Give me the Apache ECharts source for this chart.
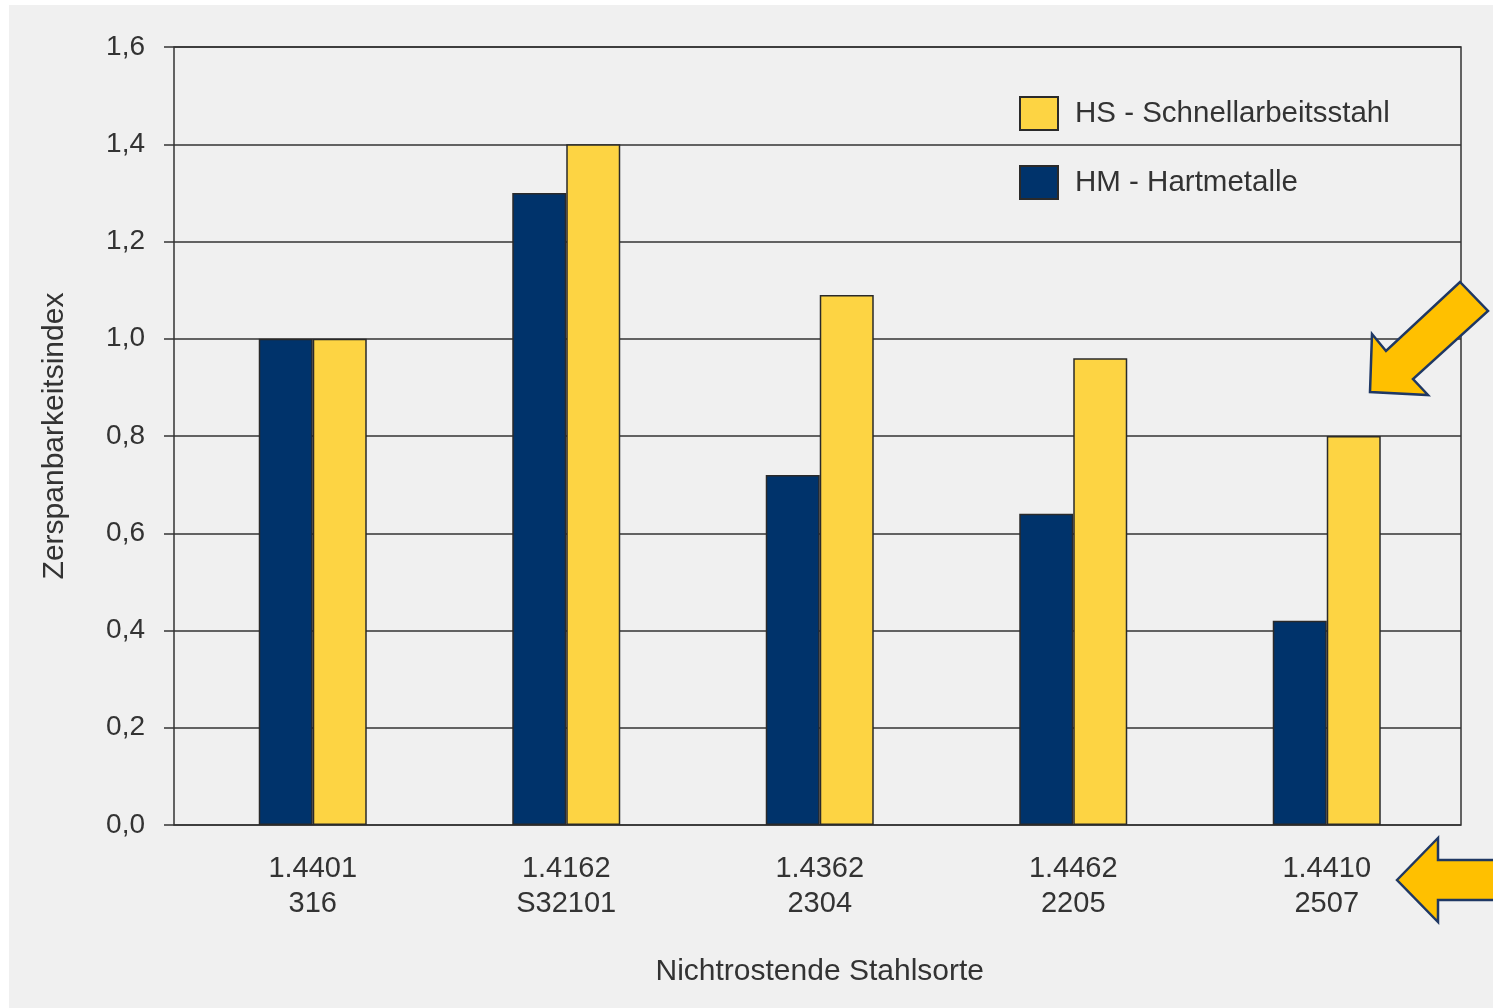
<!DOCTYPE html>
<html><head><meta charset="utf-8">
<script src="https://cdn.jsdelivr.net/npm/echarts@6/dist/echarts.min.js"></script>
<style>html,body{margin:0;padding:0;background:#fff}#c{width:1493px;height:1008px}</style>
</head><body><div id="c"></div>
<script>
const categories = ['1.4401\n316', '1.4162\nS32101', '1.4362\n2304', '1.4462\n2205', '1.4410\n2507'];
const hmValues = [1.0, 1.3, 0.72, 0.64, 0.42];
const hsValues = [1.0, 1.4, 1.09, 0.96, 0.80];
const yTicks = { min: 0, max: 1.6, interval: 0.2 };
const seriesNames = ['HM - Hartmetalle', 'HS - Schnellarbeitsstahl'];

const FONT = '"Liberation Sans", Arial, sans-serif';
const TXT = '#333333';
const chart = echarts.init(document.getElementById('c'), null, { renderer: 'canvas' });
const arrowStyle = { fill: '#ffc000', stroke: '#1f3864', lineWidth: 2.5, lineJoin: 'miter' };
chart.setOption({
  backgroundColor: '#f0f0f0',
  textStyle: { fontFamily: FONT },
  animation: false,
  grid: [
    { left: 174, top: 47, width: 1287, height: 778, show: true, borderColor: '#333', borderWidth: 1.5, backgroundColor: 'transparent' },
    { left: 186, top: 47, width: 1267.5, height: 778 }
  ],
  xAxis: [
    { gridIndex: 0, type: 'value', show: false },
    { gridIndex: 1, type: 'category', data: categories,
      axisLine: { show: false }, axisTick: { show: false },
      axisLabel: { fontSize: 29, color: TXT, margin: 26, lineHeight: 35, fontFamily: FONT },
      name: 'Nichtrostende Stahlsorte', nameLocation: 'middle', nameGap: 132,
      nameTextStyle: { fontSize: 30, color: TXT, fontFamily: FONT } }
  ],
  yAxis: [
    { gridIndex: 0, type: 'value', min: yTicks.min, max: yTicks.max, interval: yTicks.interval,
      axisLine: { show: false },
      axisTick: { show: true, length: 10, lineStyle: { color: '#333', width: 1.5 } },
      splitLine: { show: true, lineStyle: { color: '#333', width: 1.5 } },
      axisLabel: { fontSize: 28, color: TXT, margin: 29, fontFamily: FONT,
        formatter: v => v.toFixed(1).replace('.', ',') },
      name: 'Zerspanbarkeitsindex', nameLocation: 'middle', nameGap: 104,
      nameTextStyle: { fontSize: 30, color: TXT, fontFamily: FONT } },
    { gridIndex: 1, type: 'value', min: yTicks.min, max: yTicks.max, interval: yTicks.interval, show: false,
      splitLine: { show: false } }
  ],
  legend: {
    data: [seriesNames[1], seriesNames[0]],
    orient: 'vertical', left: 1019, top: 96, padding: 0,
    itemWidth: 38, itemHeight: 33, itemGap: 34, icon: 'rect',
    textStyle: { fontSize: 29.5, color: TXT, fontFamily: FONT, padding: [0, 0, 0, 12] }
  },
  series: [
    { name: seriesNames[0], type: 'bar', xAxisIndex: 1, yAxisIndex: 1, data: hmValues,
      barWidth: 54, barGap: '0%',
      itemStyle: { color: '#00336b', borderColor: '#2a2a2a', borderWidth: 1.5 } },
    { name: seriesNames[1], type: 'bar', xAxisIndex: 1, yAxisIndex: 1, data: hsValues,
      barWidth: 54, barGap: '0%',
      itemStyle: { color: '#fdd443', borderColor: '#2a2a2a', borderWidth: 1.5 } }
  ],
  graphic: [
    { type: 'rect', shape: { x: 0, y: 0, width: 9, height: 1008 }, style: { fill: '#ffffff' }, z: 200 },
    { type: 'rect', shape: { x: 0, y: 0, width: 1493, height: 5 }, style: { fill: '#ffffff' }, z: 200 },
    { type: 'polygon', z: 150,
      shape: { points: [[1370, 392], [1372, 334], [1386, 351], [1460, 282], [1488, 311], [1413, 379], [1428, 395]] },
      style: arrowStyle },
    { type: 'polygon', z: 150,
      shape: { points: [[1397, 880], [1438, 838], [1438, 860], [1500, 860], [1500, 900], [1438, 900], [1438, 922]] },
      style: arrowStyle }
  ]
});
</script></body></html>
